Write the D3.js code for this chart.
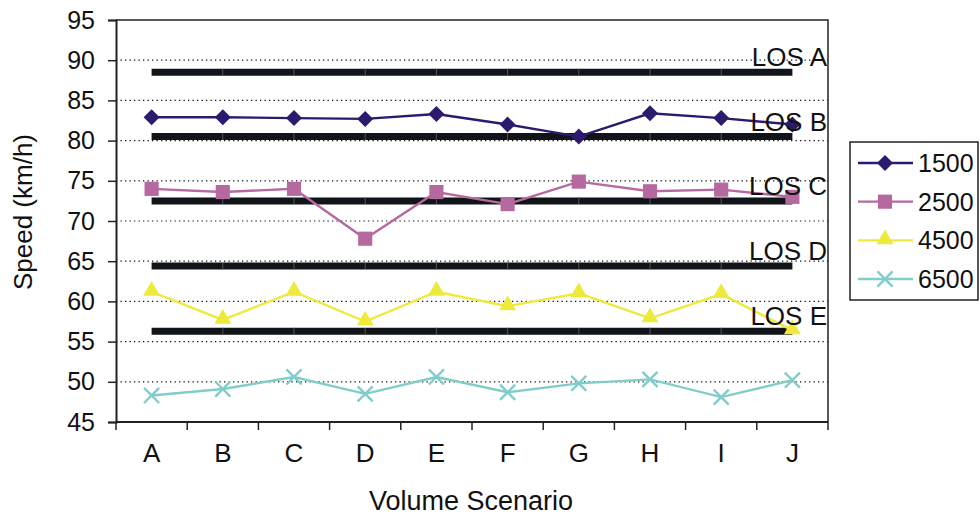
<!DOCTYPE html>
<html>
<head>
<meta charset="utf-8">
<script src="https://cdn.jsdelivr.net/npm/d3@7"></script>
<style>
  html, body { margin: 0; padding: 0; background: #fff; }
  svg { display: block; font-family: "Liberation Sans", Arial, sans-serif; }
</style>
</head>
<body>
<svg id="chart" width="980" height="518"></svg>
<script>
// Volume scenarios on the x axis
const scenarios = ["A", "B", "C", "D", "E", "F", "G", "H", "I", "J"];

// Average speed (km/h) per traffic volume
const speed1500 = [82.9, 82.9, 82.8, 82.7, 83.3, 82.0, 80.5, 83.4, 82.8, 82.0];
const speed2500 = [74.0, 73.6, 74.0, 67.8, 73.6, 72.1, 74.9, 73.7, 73.9, 73.0];
const speed4500 = [61.2, 57.7, 61.2, 57.5, 61.2, 59.4, 61.0, 57.9, 60.9, 56.4];
const speed6500 = [48.3, 49.1, 50.6, 48.5, 50.6, 48.7, 49.8, 50.3, 48.1, 50.2];

const seriesNames = ["1500", "2500", "4500", "6500"];

// Level-of-service thresholds (km/h)
const losNames = ["LOS A", "LOS B", "LOS C", "LOS D", "LOS E"];
const losSpeeds = [88.5, 80.5, 72.5, 64.4, 56.3];

// Y axis ticks
const yTicks = [45, 50, 55, 60, 65, 70, 75, 80, 85, 90, 95];

const series = [
  { name: seriesNames[0], values: speed1500, color: "#2c1a6f", symbol: "diamond" },
  { name: seriesNames[1], values: speed2500, color: "#b5699f", symbol: "square" },
  { name: seriesNames[2], values: speed4500, color: "#eeea3a", symbol: "triangle" },
  { name: seriesNames[3], values: speed6500, color: "#80cdca", symbol: "cross" }
];

const svg = d3.select("#chart");
const plot = { left: 116, right: 828, top: 20, bottom: 422 };

const x = d3.scaleBand().domain(scenarios).range([plot.left, plot.right]);
const xc = d => x(d) + x.bandwidth() / 2;
const y = d3.scaleLinear().domain([45, 95]).range([plot.bottom, plot.top]);

// Dotted gridlines
svg.append("g")
  .selectAll("line")
  .data(yTicks.filter(t => t > 45 && t < 95))
  .join("line")
  .attr("x1", plot.left).attr("x2", plot.right)
  .attr("y1", d => y(d)).attr("y2", d => y(d))
  .attr("stroke", "#111").attr("stroke-width", 1.2)
  .attr("stroke-dasharray", "1.3,3.2");

// Plot frame (top and right)
svg.append("path")
  .attr("d", `M${plot.left},${plot.top}H${plot.right}V${plot.bottom}`)
  .attr("fill", "none").attr("stroke", "#222").attr("stroke-width", 1.5);

// LOS threshold bars
const losG = svg.append("g");
losSpeeds.forEach(v => {
  losG.append("path")
    .attr("d", d3.line().x(d => xc(d)).y(() => y(v))(scenarios))
    .attr("fill", "none").attr("stroke", "#111418").attr("stroke-width", 7);
  // faint joints where bar segments meet
  losG.selectAll(null)
    .data(scenarios.slice(1, -1))
    .join("line")
    .attr("x1", d => xc(d)).attr("x2", d => xc(d))
    .attr("y1", y(v) - 3.5).attr("y2", y(v) + 3.5)
    .attr("stroke", "#666").attr("stroke-width", 0.8);
});

// Series lines and markers
const line = d3.line().x((d, i) => xc(scenarios[i])).y(d => y(d));
const symbolPath = (kind) => {
  if (kind === "diamond") return "M0,-8L8,0L0,8L-8,0Z";
  if (kind === "square") return d3.symbol(d3.symbolSquare, 200)();
  if (kind === "triangle") return d3.symbol(d3.symbolTriangle, 125)();
  return d3.symbol(d3.symbolX, 150)();
};

series.forEach(s => {
  const g = svg.append("g");
  g.append("path")
    .attr("d", line(s.values))
    .attr("fill", "none").attr("stroke", s.color).attr("stroke-width", 2.4);
  g.selectAll("path.m")
    .data(s.values)
    .join("path")
    .attr("class", "m")
    .attr("transform", (d, i) => `translate(${xc(scenarios[i])},${y(d) + (s.symbol === "triangle" ? -1 : 0)})`)
    .attr("d", symbolPath(s.symbol))
    .attr("fill", s.symbol === "cross" ? "none" : s.color)
    .attr("stroke", s.symbol === "cross" ? s.color : "none")
    .attr("stroke-width", s.symbol === "cross" ? 2.4 : 0);
});

// LOS labels
svg.append("g")
  .selectAll("text")
  .data(losNames)
  .join("text")
  .attr("x", plot.right - 1)
  .attr("y", (d, i) => y(losSpeeds[i]) - 6)
  .attr("text-anchor", "end")
  .attr("font-size", 26)
  .attr("fill", "#111")
  .text(d => d);

// Y axis
const yAxis = svg.append("g")
  .attr("transform", `translate(${plot.left},0)`)
  .call(d3.axisLeft(y).tickValues(yTicks).tickSize(8).tickPadding(13).tickFormat(d3.format("d")));
yAxis.select(".domain").attr("stroke", "#222").attr("stroke-width", 2);
yAxis.selectAll(".tick line").attr("stroke", "#222").attr("stroke-width", 1.5);
yAxis.selectAll(".tick text")
  .attr("font-size", 25).attr("fill", "#111")
  .attr("font-family", "Liberation Sans, Arial, sans-serif");

// X axis with ticks at category boundaries
const xAxis = svg.append("g")
  .attr("transform", `translate(0,${plot.bottom})`);
xAxis.append("line")
  .attr("x1", plot.left).attr("x2", plot.right)
  .attr("stroke", "#222").attr("stroke-width", 2);
const bounds = scenarios.map(d => x(d)).concat([plot.right]);
xAxis.selectAll("line.t")
  .data(bounds)
  .join("line")
  .attr("class", "t")
  .attr("x1", d => d).attr("x2", d => d)
  .attr("y1", 0).attr("y2", 8)
  .attr("stroke", "#222").attr("stroke-width", 1.5);
xAxis.selectAll("text")
  .data(scenarios)
  .join("text")
  .attr("x", d => xc(d))
  .attr("y", 40)
  .attr("text-anchor", "middle")
  .attr("font-size", 26)
  .attr("fill", "#111")
  .text(d => d);

// Axis titles
svg.append("text")
  .attr("transform", `translate(32,212) rotate(-90)`)
  .attr("text-anchor", "middle")
  .attr("font-size", 26)
  .attr("fill", "#111")
  .text("Speed (km/h)");

svg.append("text")
  .attr("x", 471)
  .attr("y", 510)
  .attr("text-anchor", "middle")
  .attr("font-size", 27)
  .attr("fill", "#111")
  .text("Volume Scenario");

// Legend
const legend = svg.append("g");
legend.append("rect")
  .attr("x", 850).attr("y", 142)
  .attr("width", 128).attr("height", 158)
  .attr("fill", "#fff").attr("stroke", "#222").attr("stroke-width", 1.5);
const legY = d3.scalePoint().domain(seriesNames).range([163, 279]);
series.forEach(s => {
  const cy = legY(s.name);
  legend.append("line")
    .attr("x1", 858).attr("x2", 913)
    .attr("y1", cy).attr("y2", cy)
    .attr("stroke", s.color).attr("stroke-width", 2.4);
  legend.append("path")
    .attr("transform", `translate(885,${cy + (s.symbol === "triangle" ? -1 : 0)})`)
    .attr("d", symbolPath(s.symbol))
    .attr("fill", s.symbol === "cross" ? "none" : s.color)
    .attr("stroke", s.symbol === "cross" ? s.color : "none")
    .attr("stroke-width", s.symbol === "cross" ? 2.4 : 0);
  legend.append("text")
    .attr("x", 918).attr("y", cy + 9)
    .attr("font-size", 25)
    .attr("fill", "#111")
    .text(s.name);
});
</script>
</body>
</html>
